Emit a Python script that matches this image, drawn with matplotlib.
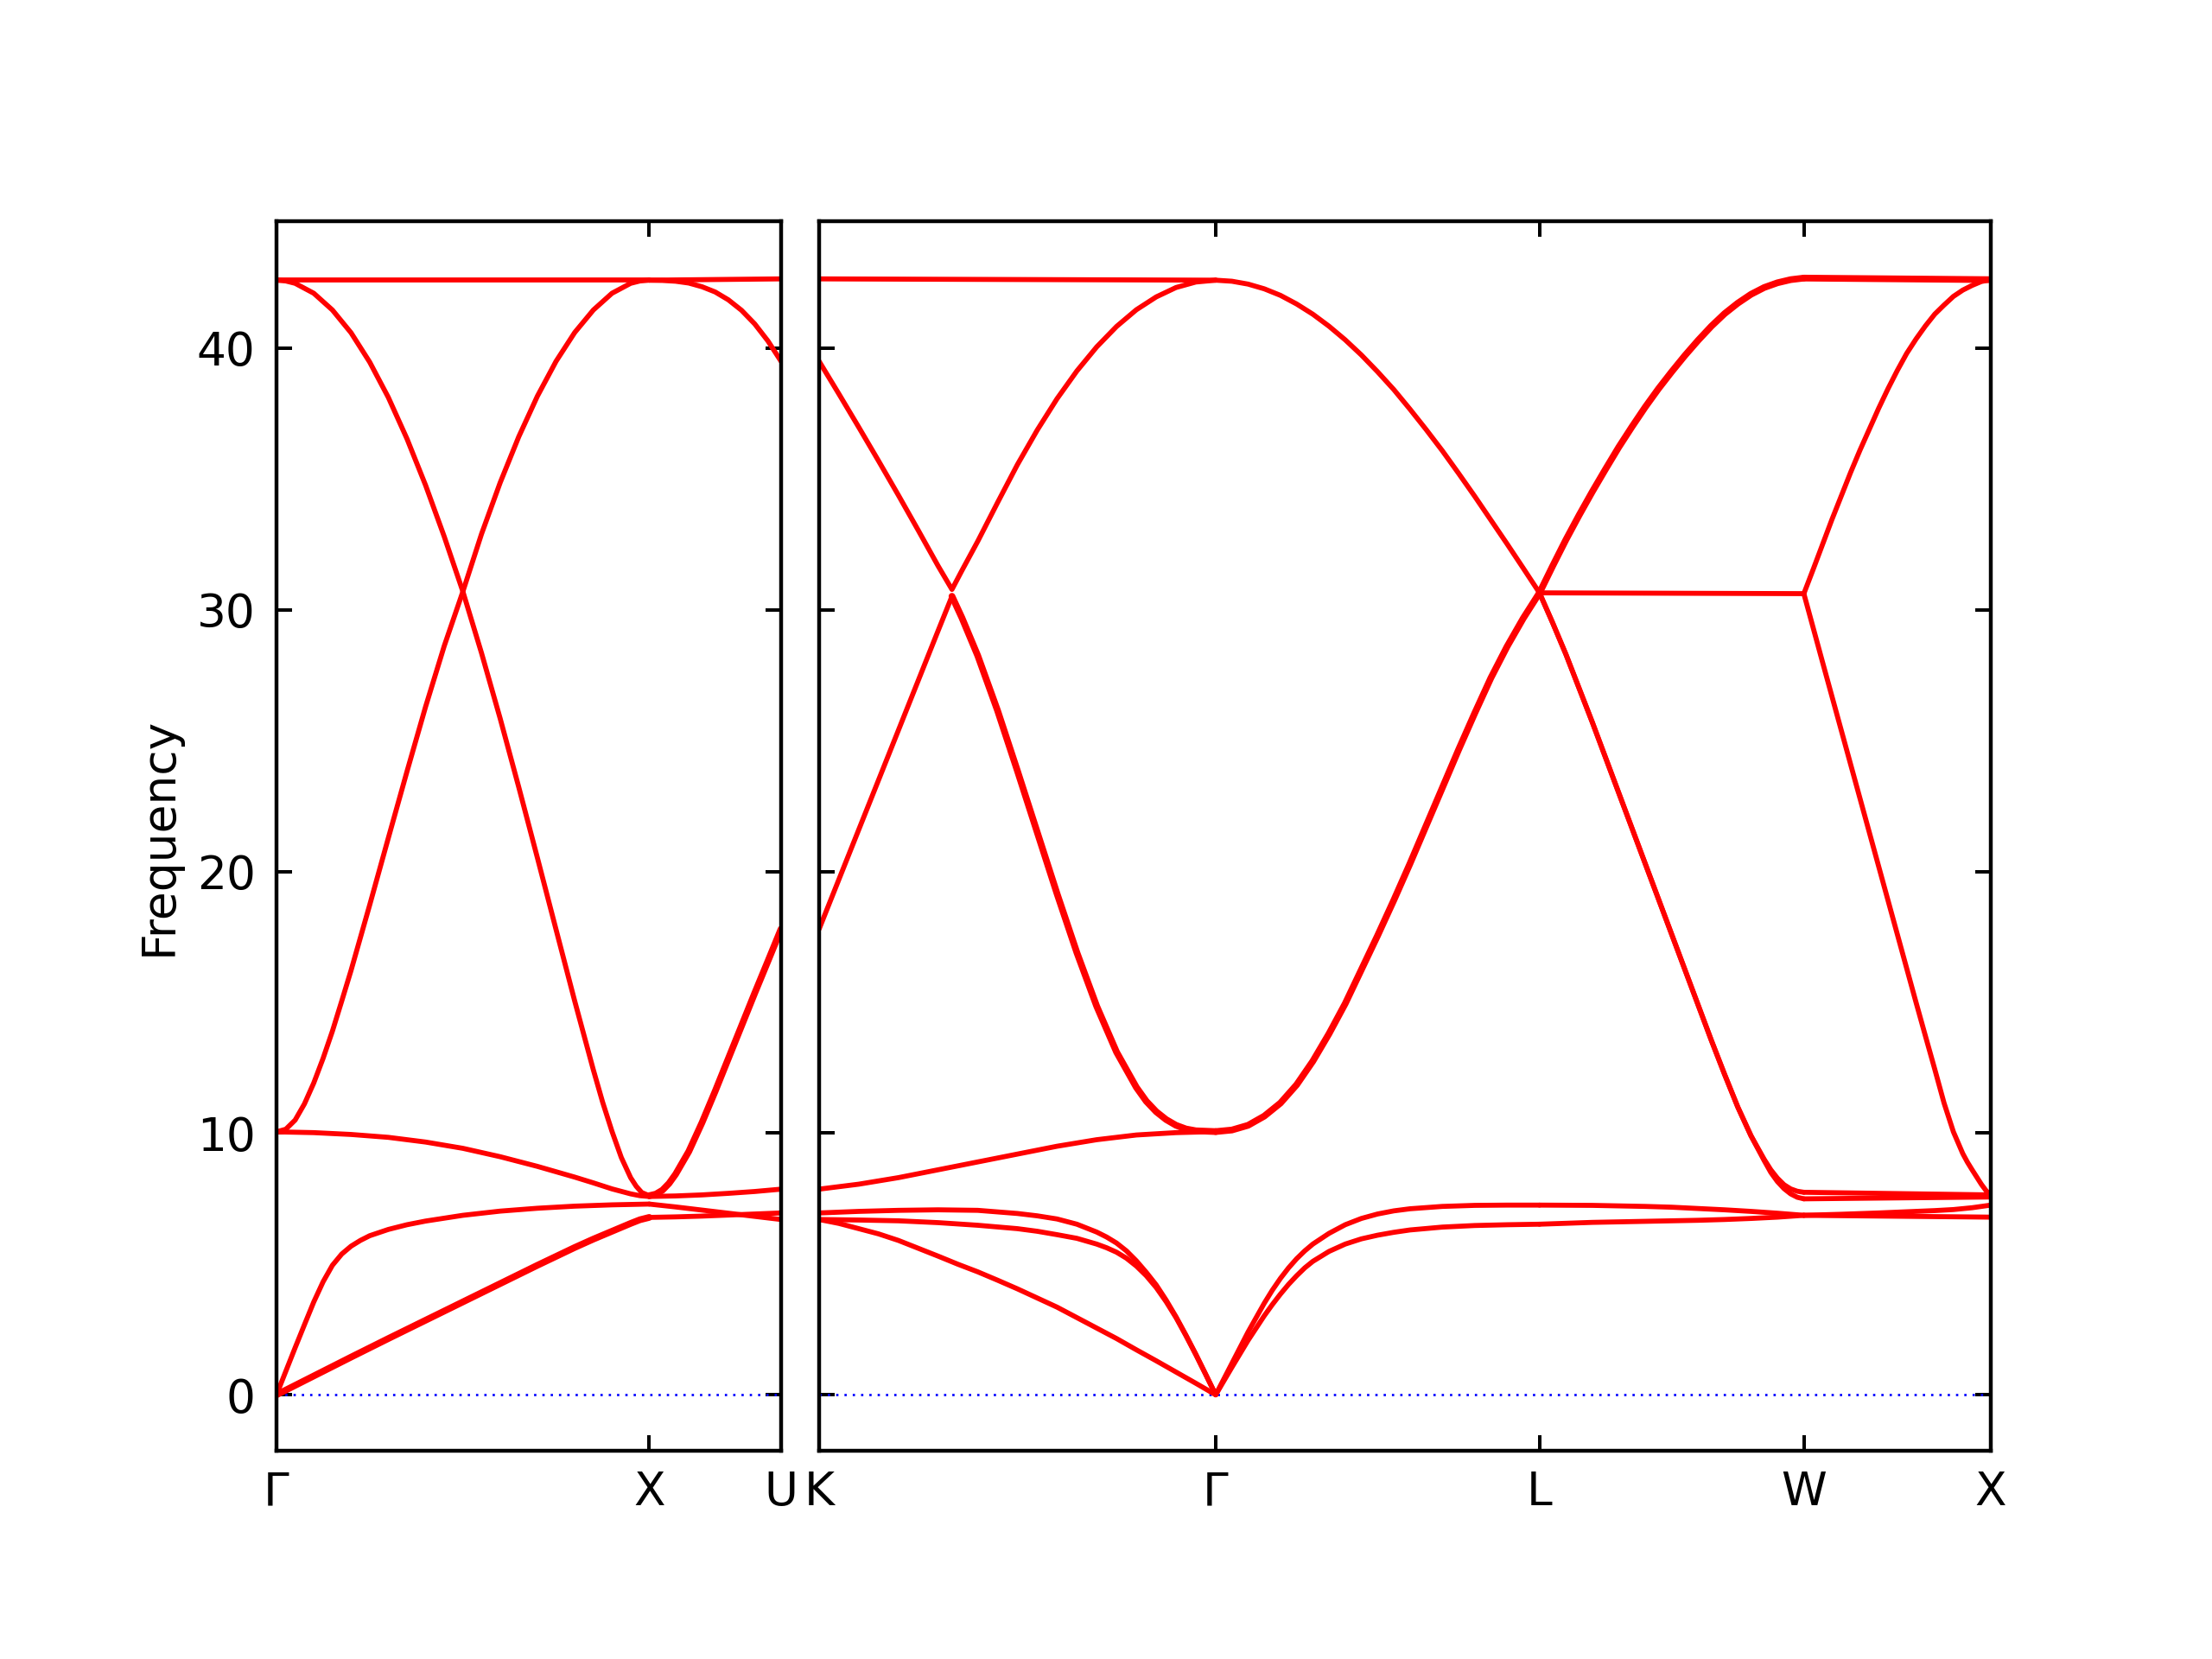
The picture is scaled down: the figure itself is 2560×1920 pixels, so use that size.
import numpy as np
import matplotlib
matplotlib.use("Agg")
import matplotlib.pyplot as plt

# ---- path geometry (units of 2pi/a) ----
LEFT_LABELS = ["Γ", "X", "U"]
LEFT_TICKS = [0.0, 1.0, 1.3536]
RIGHT_LABELS = ["K", "Γ", "L", "W", "X"]
RIGHT_TICKS = [0.0, 1.0607, 1.9267, 2.6338, 3.1338]
YTICKS = [0, 10, 20, 30, 40]
YLIM = (-2.14, 44.85)

# Each band: list of (fraction along segment, frequency)
# ---- Gamma -> X ----
GX_A = [(0, 42.60), (1, 42.60)]
GX_B = [(0, 42.60), (0.025, 42.57), (0.05, 42.48), (0.1, 42.10), (0.15, 41.46), (0.2, 40.59),
        (0.25, 39.47), (0.3, 38.12), (0.35, 36.54), (0.4, 34.76), (0.45, 32.80), (0.5, 30.70),
        (0.55, 28.35), (0.6, 25.85), (0.65, 23.22), (0.7, 20.52), (0.75, 17.78), (0.8, 15.05),
        (0.85, 12.42), (0.875, 11.18), (0.9, 10.07), (0.925, 9.07), (0.95, 8.30), (0.965, 7.97),
        (0.98, 7.73), (1.0, 7.61)]
GX_C = [(0, 10.05), (0.025, 10.15), (0.05, 10.50), (0.075, 11.12), (0.1, 11.92), (0.125, 12.86),
        (0.15, 13.90), (0.175, 15.05), (0.2, 16.22), (0.25, 18.72), (0.3, 21.28), (0.35, 23.82),
        (0.4, 26.30), (0.45, 28.62), (0.5, 30.70), (0.55, 32.90), (0.6, 34.86), (0.65, 36.62),
        (0.7, 38.17), (0.75, 39.50), (0.8, 40.60), (0.85, 41.46), (0.9, 42.10), (0.95, 42.48),
        (0.975, 42.57), (1.0, 42.60)]
GX_D = [(0, 10.05), (0.1, 10.02), (0.2, 9.95), (0.3, 9.84), (0.4, 9.66), (0.5, 9.42),
        (0.6, 9.10), (0.7, 8.73), (0.8, 8.32), (0.85, 8.10), (0.9, 7.87), (0.95, 7.68),
        (0.975, 7.61), (1.0, 7.58)]
GX_E = [(0, 0.00), (0.025, 0.90), (0.05, 1.80), (0.075, 2.68), (0.1, 3.55), (0.125, 4.32),
        (0.15, 4.95), (0.175, 5.38), (0.2, 5.68), (0.225, 5.90), (0.25, 6.08), (0.3, 6.32),
        (0.35, 6.50), (0.4, 6.64), (0.5, 6.86), (0.6, 7.02), (0.7, 7.13), (0.8, 7.21),
        (0.9, 7.26), (1.0, 7.29)]
GX_F = [(0, 0.00), (0.1, 0.72), (0.2, 1.44), (0.3, 2.15), (0.4, 2.85), (0.5, 3.55),
        (0.6, 4.25), (0.7, 4.95), (0.8, 5.63), (0.85, 5.95), (0.9, 6.25), (0.95, 6.55),
        (0.975, 6.69), (1.0, 6.78)]

# ---- X -> U ----
XU_A = [(0, 42.60), (1, 42.65)]
XU_C = [(0, 42.60), (0.1, 42.59), (0.2, 42.56), (0.3, 42.49), (0.4, 42.35), (0.5, 42.15),
        (0.6, 41.85), (0.7, 41.45), (0.8, 40.93), (0.9, 40.28), (1.0, 39.50)]
XU_R = [(0, 7.61), (0.05, 7.67), (0.1, 7.82), (0.15, 8.08), (0.2, 8.43), (0.3, 9.30),
        (0.4, 10.40), (0.5, 11.60), (0.6, 12.85), (0.7, 14.10), (0.8, 15.35), (0.9, 16.57),
        (1.0, 17.80)]
XU_D = [(0, 7.58), (0.2, 7.60), (0.4, 7.64), (0.6, 7.70), (0.8, 7.77), (1.0, 7.86)]
XU_E = [(0, 7.29), (0.2, 7.18), (0.4, 7.06), (0.6, 6.94), (0.8, 6.82), (1.0, 6.70)]
XU_F = [(0, 6.78), (0.2, 6.80), (0.4, 6.83), (0.6, 6.87), (0.8, 6.91), (1.0, 6.95)]

# ---- K -> Gamma ----
KG_A = [(0, 42.65), (1, 42.60)]
KG_UP = [(0, 39.50), (0.05, 38.25), (0.1, 36.98), (0.15, 35.69), (0.2, 34.38), (0.25, 33.04),
         (0.3, 31.68), (0.335, 30.78), (0.36, 31.50), (0.4, 32.62), (0.45, 34.10), (0.5, 35.55),
         (0.55, 36.87), (0.6, 38.07), (0.65, 39.13), (0.7, 40.05), (0.75, 40.83), (0.8, 41.47),
         (0.85, 41.96), (0.9, 42.32), (0.95, 42.53), (1.0, 42.60)]
KG_LO_L = [(0, 17.80), (0.05, 19.70), (0.1, 21.60), (0.15, 23.50), (0.2, 25.40), (0.25, 27.30),
           (0.3, 29.20), (0.335, 30.52)]
KG_LO_R = [(0.335, 30.52), (0.36, 29.70), (0.4, 28.25), (0.45, 26.15), (0.5, 23.85), (0.55, 21.50),
           (0.6, 19.15), (0.65, 16.90), (0.7, 14.85), (0.75, 13.10), (0.8, 11.75), (0.825, 11.22),
           (0.85, 10.82), (0.875, 10.52), (0.9, 10.30), (0.925, 10.16), (0.95, 10.09), (1.0, 10.06)]
KG_D = [(0, 7.86), (0.1, 8.05), (0.2, 8.30), (0.3, 8.60), (0.4, 8.90), (0.5, 9.20),
        (0.6, 9.50), (0.7, 9.75), (0.8, 9.93), (0.9, 10.02), (1.0, 10.06)]
KG_G1 = [(0, 6.95), (0.1, 7.01), (0.2, 7.05), (0.3, 7.07), (0.4, 7.05), (0.5, 6.93),
         (0.55, 6.84), (0.6, 6.72), (0.65, 6.52), (0.7, 6.22), (0.725, 6.03), (0.75, 5.80),
         (0.775, 5.50), (0.8, 5.12), (0.825, 4.68), (0.85, 4.20), (0.875, 3.62), (0.9, 2.98),
         (0.925, 2.28), (0.95, 1.55), (0.975, 0.78), (1.0, 0.00)]
KG_G2 = [(0, 6.70), (0.1, 6.68), (0.2, 6.65), (0.3, 6.58), (0.4, 6.48), (0.5, 6.35),
         (0.55, 6.25), (0.6, 6.12), (0.65, 5.98), (0.7, 5.76), (0.725, 5.62), (0.75, 5.45),
         (0.775, 5.22), (0.8, 4.92), (0.825, 4.55), (0.85, 4.10), (0.875, 3.56), (0.9, 2.95),
         (0.925, 2.26), (0.95, 1.53), (0.975, 0.77), (1.0, 0.00)]
KG_G3 = [(0, 6.70), (0.05, 6.55), (0.1, 6.35), (0.15, 6.15), (0.2, 5.90), (0.25, 5.60),
         (0.3, 5.30), (0.35, 4.99), (0.4, 4.70), (0.45, 4.38), (0.5, 4.05), (0.55, 3.70),
         (0.6, 3.35), (0.65, 2.95), (0.7, 2.55), (0.75, 2.15), (0.8, 1.72), (0.85, 1.30),
         (0.9, 0.87), (0.95, 0.44), (1.0, 0.00)]

# ---- Gamma -> L ----
GL_DN = [(0, 42.60), (0.05, 42.56), (0.1, 42.45), (0.15, 42.27), (0.2, 42.02), (0.25, 41.69),
         (0.3, 41.30), (0.35, 40.84), (0.4, 40.32), (0.45, 39.74), (0.5, 39.10), (0.55, 38.42),
         (0.6, 37.67), (0.65, 36.89), (0.7, 36.08), (0.75, 35.22), (0.8, 34.34), (0.85, 33.43),
         (0.9, 32.52), (0.95, 31.59), (1.0, 30.65)]
GL_UP = [(0, 10.06), (0.05, 10.12), (0.1, 10.30), (0.15, 10.65), (0.2, 11.15), (0.25, 11.85),
         (0.3, 12.75), (0.35, 13.80), (0.4, 14.95), (0.45, 16.25), (0.5, 17.55), (0.55, 18.90),
         (0.6, 20.30), (0.65, 21.75), (0.7, 23.20), (0.75, 24.65), (0.8, 26.05), (0.85, 27.40),
         (0.9, 28.60), (0.95, 29.68), (1.0, 30.65)]
GL_H1 = [(0, 0.00), (0.05, 1.20), (0.1, 2.40), (0.15, 3.50), (0.175, 4.00), (0.2, 4.45),
         (0.225, 4.85), (0.25, 5.20), (0.275, 5.50), (0.3, 5.76), (0.35, 6.17), (0.4, 6.50),
         (0.45, 6.74), (0.5, 6.91), (0.55, 7.03), (0.6, 7.11), (0.7, 7.20), (0.8, 7.24),
         (0.9, 7.25), (1.0, 7.25)]
GL_H2 = [(0, 0.00), (0.05, 1.05), (0.1, 2.08), (0.15, 3.02), (0.175, 3.45), (0.2, 3.85),
         (0.225, 4.22), (0.25, 4.55), (0.275, 4.85), (0.3, 5.10), (0.35, 5.48), (0.4, 5.76),
         (0.45, 5.96), (0.5, 6.10), (0.55, 6.21), (0.6, 6.30), (0.7, 6.41), (0.8, 6.47),
         (0.9, 6.50), (1.0, 6.52)]

# ---- L -> W ----
LW_RISE = [(0, 30.65), (0.05, 31.68), (0.1, 32.68), (0.15, 33.62), (0.2, 34.52), (0.25, 35.38),
           (0.3, 36.22), (0.35, 37.00), (0.4, 37.75), (0.45, 38.45), (0.5, 39.10), (0.55, 39.72),
           (0.6, 40.30), (0.65, 40.84), (0.7, 41.32), (0.75, 41.72), (0.8, 42.06), (0.85, 42.32),
           (0.9, 42.50), (0.95, 42.62), (1.0, 42.68)]
LW_FLAT = [(0, 30.65), (1, 30.62)]
LW_DESC1 = [(0, 30.65), (0.05, 29.50), (0.1, 28.30), (0.15, 27.00), (0.2, 25.70), (0.25, 24.35),
            (0.3, 23.00), (0.35, 21.65), (0.4, 20.30), (0.45, 18.95), (0.5, 17.60), (0.55, 16.25),
            (0.6, 14.90), (0.65, 13.55), (0.7, 12.25), (0.75, 11.00), (0.8, 9.90), (0.85, 9.00),
            (0.875, 8.60), (0.9, 8.28), (0.925, 8.03), (0.95, 7.87), (0.975, 7.78), (1.0, 7.74)]
LW_DESC2 = [(0, 30.65), (0.05, 29.50), (0.1, 28.30), (0.15, 27.00), (0.2, 25.70), (0.25, 24.35),
            (0.3, 23.00), (0.35, 21.65), (0.4, 20.30), (0.45, 18.95), (0.5, 17.60), (0.55, 16.25),
            (0.6, 14.90), (0.65, 13.55), (0.7, 12.25), (0.75, 11.00), (0.8, 9.90), (0.85, 8.95),
            (0.875, 8.50), (0.9, 8.15), (0.925, 7.88), (0.95, 7.68), (0.975, 7.55), (1.0, 7.49)]
LW_H1 = [(0, 7.25), (0.2, 7.24), (0.4, 7.20), (0.5, 7.17), (0.6, 7.12), (0.7, 7.07),
         (0.8, 7.01), (0.9, 6.94), (1.0, 6.86)]
LW_H2 = [(0, 6.52), (0.2, 6.59), (0.4, 6.63), (0.5, 6.65), (0.6, 6.67), (0.7, 6.70),
         (0.8, 6.74), (0.9, 6.79), (1.0, 6.86)]

# ---- W -> X ----
WX_TOP = [(0, 42.68), (1, 42.62)]
WX_RISE = [(0, 30.62), (0.05, 31.55), (0.1, 32.50), (0.15, 33.45), (0.2, 34.35), (0.25, 35.25),
           (0.3, 36.10), (0.35, 36.90), (0.4, 37.70), (0.45, 38.45), (0.5, 39.15), (0.55, 39.80),
           (0.6, 40.35), (0.65, 40.85), (0.7, 41.30), (0.75, 41.65), (0.8, 41.98), (0.85, 42.22),
           (0.9, 42.40), (0.95, 42.55), (1.0, 42.62)]
WX_DESC = [(0, 30.62), (0.1, 28.00), (0.2, 25.40), (0.3, 22.80), (0.4, 20.20), (0.5, 17.60),
           (0.6, 15.00), (0.65, 13.72), (0.7, 12.45), (0.75, 11.15), (0.8, 10.05), (0.85, 9.22),
           (0.875, 8.89), (0.9, 8.60), (0.925, 8.32), (0.95, 8.04), (0.975, 7.80), (1.0, 7.62)]
WX_F1 = [(0, 7.74), (1, 7.64)]
WX_F2 = [(0, 7.49), (1, 7.56)]
WX_L1 = [(0, 6.86), (0.2, 6.90), (0.4, 6.95), (0.6, 7.01), (0.7, 7.04), (0.8, 7.08),
         (0.9, 7.15), (1.0, 7.25)]
WX_L2 = [(0, 6.86), (1, 6.79)]

# bands that appear doubled (degenerate) in the picture are drawn a bit bolder
LEFT_SEGMENTS = [
    (LEFT_TICKS[0], LEFT_TICKS[1], [GX_A, GX_B, GX_C, GX_D, GX_E], [GX_F]),
    (LEFT_TICKS[1], LEFT_TICKS[2], [XU_A, XU_C, XU_D, XU_E, XU_F], [XU_R]),
]
RIGHT_SEGMENTS = [
    (RIGHT_TICKS[0], RIGHT_TICKS[1], [KG_A, KG_UP, KG_LO_L, KG_D, KG_G1, KG_G2, KG_G3], [KG_LO_R]),
    (RIGHT_TICKS[1], RIGHT_TICKS[2], [GL_DN, GL_H1, GL_H2], [GL_UP]),
    (RIGHT_TICKS[2], RIGHT_TICKS[3], [LW_FLAT, LW_DESC1, LW_DESC2, LW_H1, LW_H2], [LW_RISE]),
    (RIGHT_TICKS[3], RIGHT_TICKS[4], [WX_RISE, WX_DESC, WX_F1, WX_F2, WX_L1, WX_L2], [WX_TOP]),
]

plt.rcParams['font.family'] = ['DejaVu Sans']
fig = plt.figure(figsize=(8, 6), dpi=320)
bottom = 0.1255
height = 0.7411
ax1 = fig.add_axes([0.125, bottom, 0.2281, height])
ax2 = fig.add_axes([0.3703, bottom, 0.5297, height])


def draw(ax, segments):
    for x0, x1, bands, bold in segments:
        for group, lw in ((bands, 1.3), (bold, 1.75)):
            for band in group:
                f = np.array([p[0] for p in band], dtype=float)
                v = np.array([p[1] for p in band], dtype=float)
                ax.plot(x0 + f * (x1 - x0), v, color='#ff0000', lw=lw,
                        solid_joinstyle='round', solid_capstyle='round', zorder=3)


draw(ax1, LEFT_SEGMENTS)
draw(ax2, RIGHT_SEGMENTS)

for ax, ticks, labels in ((ax1, LEFT_TICKS, LEFT_LABELS), (ax2, RIGHT_TICKS, RIGHT_LABELS)):
    ax.axhline(0, color='blue', lw=0.6, ls=(0, (1, 2.6)), zorder=2)
    ax.set_xlim(ticks[0], ticks[-1])
    ax.set_ylim(*YLIM)
    ax.set_xticks(ticks)
    ax.set_xticklabels(labels)
    ax.set_yticks(YTICKS)
    ax.tick_params(direction='in', length=4, width=0.9, top=True, right=True,
                   labelsize=12, pad=5)
    for s in ax.spines.values():
        s.set_linewidth(1.0)
        s.set_zorder(4)

ax2.tick_params(labelleft=False)
ax1.tick_params(axis='y', pad=5.5)
ax1.set_ylabel('Frequency', fontsize=12, labelpad=4)

fig.savefig('out.png', dpi=320)
